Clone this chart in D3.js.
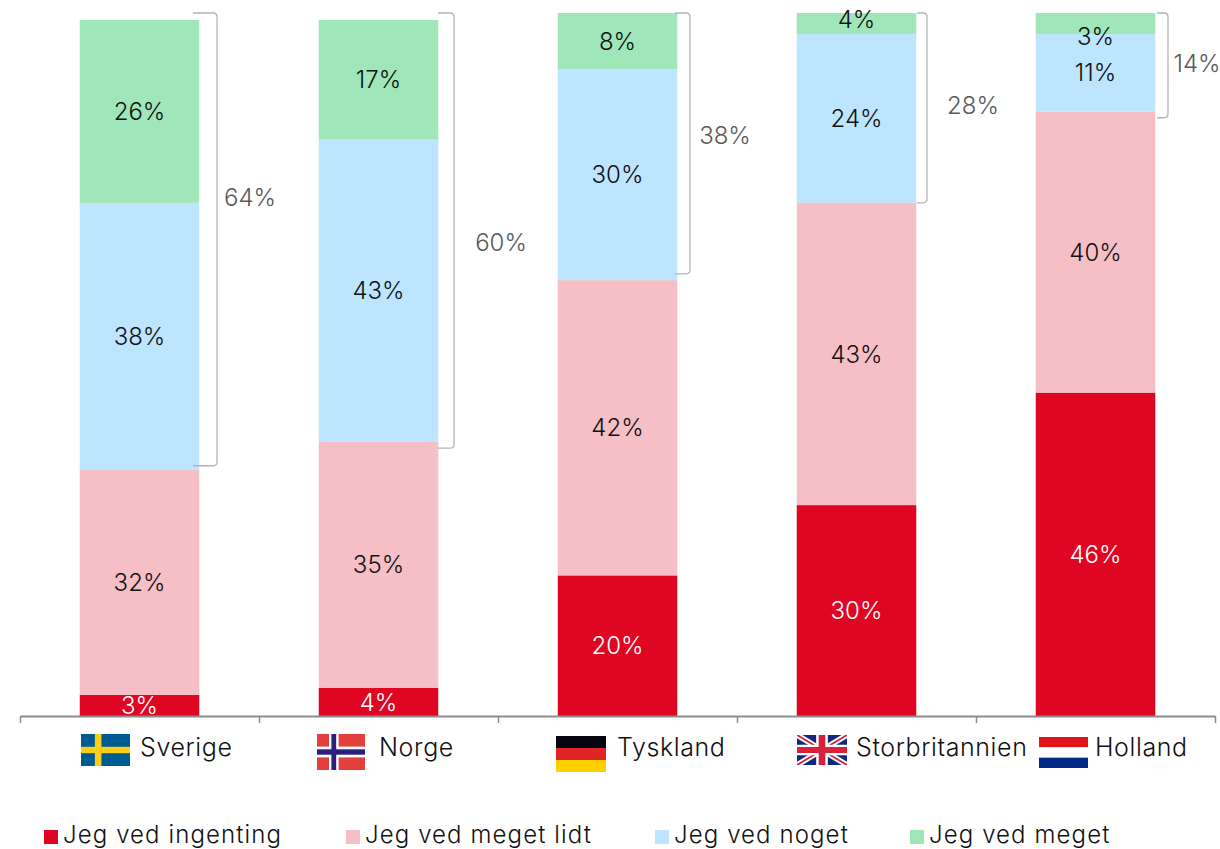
<!DOCTYPE html>
<html>
<head>
<meta charset="utf-8">
<script src="https://cdn.jsdelivr.net/npm/d3@7"></script>
<style>
  html, body { margin: 0; padding: 0; background: #fff; }
  svg { display: block; }
  text { font-family: Inter, "Open Sans", sans-serif; font-weight: 300; }
</style>
</head>
<body>
<svg id="chart" width="1220" height="849"></svg>
<script>
const countries = ['Sverige', 'Norge', 'Tyskland', 'Storbritannien', 'Holland']
const answers = ['Jeg ved ingenting', 'Jeg ved meget lidt', 'Jeg ved noget', 'Jeg ved meget']
const ingenting = [3, 4, 20, 30, 46]
const megetLidt = [32, 35, 42, 43, 40]
const noget = [38, 43, 30, 24, 11]
const meget = [26, 17, 8, 4, 3]
const knowTotal = [64, 60, 38, 28, 14]
// where each bracket ends on the value axis
const bracketBottom = [35.6, 38.1, 62.9, 73, 85.1]
const colors = ['#e00522', '#f6bfc6', '#bde5ff', '#9fe7b8']

const svg = d3.select('#chart')
const width = { left: 20, right: 1215 }
const plot = { top: 13, bottom: 716 }

const xScale = d3.scaleBand().domain(countries).range([width.left, width.right]).paddingInner(0.5).paddingOuter(0.25)
const yScale = d3.scaleLinear().domain([0, 100]).range([plot.bottom, plot.top]).clamp(true)

const rows = countries.map((c, i) => ({ country: c, values: [ingenting[i], megetLidt[i], noget[i], meget[i]] }))

// Bars
rows.forEach(row => {
  let sum = 0
  row.values.forEach((v, k) => {
    const y0 = yScale(sum)
    const y1 = yScale(sum + v)
    sum += v
    svg.append('rect')
      .attr('x', xScale(row.country))
      .attr('y', y1)
      .attr('width', xScale.bandwidth())
      .attr('height', y0 - y1)
      .attr('fill', colors[k])
    // the small top labels of the last two bars are moved in the original
    const shifted = row.country === 'Holland' && k === 3
    svg.append('text')
      .attr('x', xScale(row.country) + xScale.bandwidth() / 2)
      .attr('y', shifted ? y0 + 2 : (y0 + y1) / 2 + (k === 3 && row.country === 'Storbritannien' ? -4 : 0))
      .attr('dy', '0.36em')
      .attr('text-anchor', 'middle')
      .attr('font-size', 24)
      .attr('fill', k === 0 ? '#fff' : '#111')
      .text(v + '%')
  })
})

// Axis, ticks on the band edges
const tickScale = d3.scaleLinear().domain([0, countries.length]).range([width.left, width.right])
const axis = svg.append('g')
  .attr('transform', `translate(0, ${plot.bottom})`)
  .call(d3.axisBottom(tickScale).tickValues(d3.range(countries.length + 1)).tickSize(7).tickSizeOuter(0).tickFormat(''))
axis.select('.domain').attr('stroke', '#8c8c8c').attr('stroke-width', 2)
axis.selectAll('.tick line').attr('stroke', '#8c8c8c').attr('stroke-width', 1.5)

// Brackets with their totals
const bracketX = [[193, 217], [438, 454], [675, 690], [917, 927], [1157, 1168]]
const totalPos = [[250, 197], [501, 242], [725, 135], [973, 105], [1197, 63]]
knowTotal.forEach((t, i) => {
  const [x0, x1] = bracketX[i]
  const yTop = plot.top
  const yBot = yScale(bracketBottom[i])
  svg.append('path')
    .attr('d', `M${x0},${yTop} L${x1 - 4},${yTop} Q${x1},${yTop} ${x1},${yTop + 4} L${x1},${yBot - 4} Q${x1},${yBot} ${x1 - 4},${yBot} L${x0},${yBot}`)
    .attr('fill', 'none')
    .attr('stroke', '#b4b4b4')
    .attr('stroke-width', 1.3)
  svg.append('text')
    .attr('x', totalPos[i][0])
    .attr('y', totalPos[i][1])
    .attr('dy', '0.36em')
    .attr('text-anchor', 'middle')
    .attr('font-size', 24)
    .attr('fill', '#595959')
    .text(t + '%')
})

// Flags, drawn in a 30x20 box
function flag (x, y, w, h, draw) {
  const g = svg.append('svg').attr('x', x).attr('y', y).attr('width', w).attr('height', h)
    .attr('viewBox', '0 0 30 20').attr('preserveAspectRatio', 'none')
  draw(g)
}
function box (g, x, y, w, h, fill) {
  g.append('rect').attr('x', x).attr('y', y).attr('width', w).attr('height', h).attr('fill', fill)
}
flag(81, 734, 49, 32, g => {
  box(g, 0, 0, 30, 20, '#005b92')
  box(g, 8.5, 0, 4, 20, '#fbcf16')
  box(g, 0, 8, 30, 4, '#fbcf16')
})
flag(317, 734, 48, 36, g => {
  box(g, 0, 0, 30, 20, '#e2403c')
  box(g, 7.5, 0, 6, 20, '#fff')
  box(g, 0, 7, 30, 6, '#fff')
  box(g, 9, 0, 3, 20, '#2a1f7c')
  box(g, 0, 8.5, 30, 3, '#2a1f7c')
})
flag(556, 736, 50, 36, g => {
  box(g, 0, 0, 30, 6.67, '#050510')
  box(g, 0, 6.67, 30, 6.67, '#df2525')
  box(g, 0, 13.33, 30, 6.67, '#ffcf00')
})
flag(797, 735, 50, 30, g => {
  box(g, 0, 0, 30, 20, '#0f2a78')
  g.append('path').attr('d', 'M0,0 L30,20 M30,0 L0,20').attr('stroke', '#fff').attr('stroke-width', 3.6)
  g.append('path').attr('d', 'M0,0 L30,20 M30,0 L0,20').attr('stroke', '#d9223a').attr('stroke-width', 1.2)
  box(g, 11.5, 0, 7, 20, '#fff')
  box(g, 0, 6.5, 30, 7, '#fff')
  box(g, 13, 0, 4, 20, '#d9223a')
  box(g, 0, 8, 30, 4, '#d9223a')
})
flag(1039, 737, 49, 31, g => {
  box(g, 0, 0, 30, 6.67, '#e1141c')
  box(g, 0, 6.67, 30, 6.67, '#fff')
  box(g, 0, 13.33, 30, 6.67, '#002a85')
})

// Category labels
const labelX = [140, 379, 617, 856, 1095]
countries.forEach((c, i) => {
  svg.append('text')
    .attr('x', labelX[i])
    .attr('y', 746.5)
    .attr('dy', '0.36em')
    .attr('font-size', 25)
    .attr('letter-spacing', 0.6)
    .attr('fill', '#111')
    .text(c)
})

// Legend
const legendX = [44, 346, 655, 910]
answers.forEach((a, i) => {
  svg.append('rect')
    .attr('x', legendX[i])
    .attr('y', 830)
    .attr('width', 14)
    .attr('height', 14)
    .attr('fill', colors[i])
  svg.append('text')
    .attr('x', legendX[i] + 19)
    .attr('y', 834)
    .attr('dy', '0.36em')
    .attr('font-size', 24)
    .attr('letter-spacing', 1.1)
    .attr('fill', '#111')
    .text(a)
})
</script>
</body>
</html>
